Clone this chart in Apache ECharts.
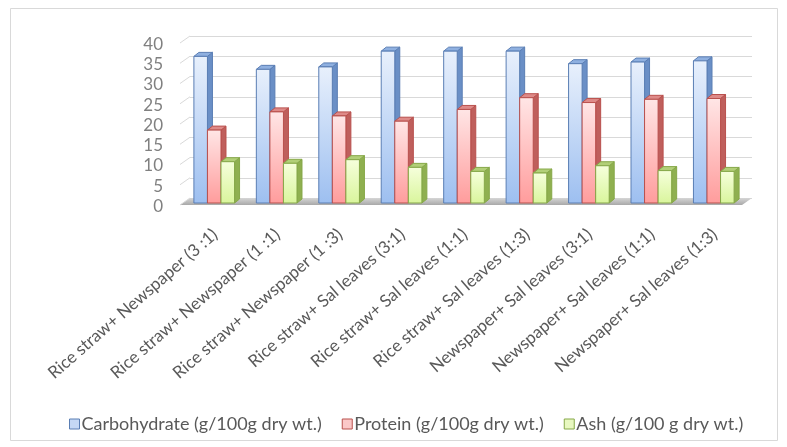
<!DOCTYPE html>
<html>
<head>
<meta charset="utf-8">
<script src="https://cdn.jsdelivr.net/npm/echarts@6/dist/echarts.min.js"></script>
<style>
html,body{margin:0;padding:0;background:#fff;}
#chart{width:787px;height:447px;}
</style>
</head>
<body>
<div id="chart"></div>
<script>
const categories = [
  'Rice straw+ Newspaper (3 :1)',
  'Rice straw+ Newspaper (1 :1)',
  'Rice straw+ Newspaper (1 :3)',
  'Rice straw+ Sal leaves (3:1)',
  'Rice straw+ Sal leaves (1:1)',
  'Rice straw+ Sal leaves (1:3)',
  'Newspaper+ Sal leaves (3:1)',
  'Newspaper+ Sal leaves (1:1)',
  'Newspaper+ Sal leaves (1:3)'
];
const carbohydrate = [36.2, 33.0, 33.6, 37.5, 37.5, 37.5, 34.4, 34.8, 35.1];
const protein = [18.0, 22.5, 21.5, 20.2, 23.1, 26.0, 24.8, 25.6, 25.8];
const ash = [10.2, 9.8, 10.7, 8.8, 7.8, 7.4, 9.2, 8.0, 7.8];
const yTicks = [0, 5, 10, 15, 20, 25, 30, 35, 40];
const seriesNames = [
  'Carbohydrate (g/100g dry wt.)',
  'Protein (g/100g dry wt.)',
  'Ash (g/100 g dry wt.)'
];

const FONT = 'Lato';
const palettes = [
  {top:'#e8f0fc', bottom:'#9dbff0', side:'#6a8fc6', cap:'#8fb0e0', border:'#5a7eb4', legend:'#c5d8f5'},
  {top:'#ffe6e6', bottom:'#ff9c9c', side:'#bf5f5c', cap:'#de8a88', border:'#b9504d', legend:'#fbc8c8'},
  {top:'#f6ffdc', bottom:'#d9f59c', side:'#8fb050', cap:'#b2cf78', border:'#86a848', legend:'#e8f8c0'}
];
// 3D offsets (px)
const FX = -7, FY = 5;   // bar front plane relative to back wall
const DX = 5, DY = -4;   // bar depth
const WX = -10, WY = 7;  // wall depth

function barRenderer(k) {
  const p = palettes[k];
  return function (params, api) {
    const idx = api.value(0), v = api.value(1);
    const base = api.coord([idx, 0]);
    const top = api.coord([idx, v]);
    const band = api.size([1, 0])[0];
    const w = band * 0.217;
    const cx = base[0] + (k - 1) * w + FX;
    const x0 = cx - w / 2, x1 = cx + w / 2;
    const yb = base[1] + FY, yt = top[1] + FY;
    return {
      type: 'group',
      children: [
        {type: 'polygon', shape: {points: [[x1, yt], [x1 + DX, yt + DY], [x1 + DX, yb + DY], [x1, yb]]},
          style: {fill: p.side, stroke: p.border, lineWidth: 1}},
        {type: 'polygon', shape: {points: [[x0, yt], [x0 + DX, yt + DY], [x1 + DX, yt + DY], [x1, yt]]},
          style: {fill: p.cap, stroke: p.border, lineWidth: 1}},
        {type: 'rect', shape: {x: x0, y: yt, width: w, height: yb - yt},
          style: {
            fill: new echarts.graphic.LinearGradient(0, 0, 0, 1, [
              {offset: 0, color: p.top}, {offset: 1, color: p.bottom}
            ]),
            stroke: p.border, lineWidth: 1
          }}
      ]
    };
  };
}

function wallRenderer(params, api) {
  const v = api.value(1);
  const pt = api.coord([0, v]);
  const last = api.coord([categories.length - 1, v]);
  const band = api.size([1, 0])[0];
  const xl = pt[0] - band / 2;
  const xr = last[0] + band / 2;
  const children = [
    {type: 'line', shape: {x1: xl, y1: pt[1], x2: xl + WX, y2: pt[1] + WY},
      style: {stroke: '#d9d9d9', lineWidth: 1}}
  ];
  if (v === 0) {
    children.unshift({type: 'polygon',
      shape: {points: [[xl, pt[1]], [xr, pt[1]], [xr + WX, pt[1] + WY], [xl + WX, pt[1] + WY]]},
      style: {fill: new echarts.graphic.LinearGradient(0, 0, 0, 1, [
        {offset: 0, color: '#d6d6d6'}, {offset: 1, color: '#a8a8a8'}])}});
  }
  return {type: 'group', children: children};
}

const chart = echarts.init(document.getElementById('chart'), null, {renderer: 'canvas'});
const valueSets = [carbohydrate, protein, ash];

chart.setOption({
  animation: false,
  backgroundColor: '#fff',
  textStyle: {fontFamily: FONT},
  graphic: [{
    type: 'rect', shape: {x: 10.5, y: 8.5, width: 767, height: 432},
    style: {fill: 'none', stroke: '#d9d9d9', lineWidth: 1}, z: -10
  }],
  grid: {left: 190, right: 35, top: 36, bottom: 249, containLabel: false},
  legend: {
    left: 64, top: 410, itemWidth: 10, itemHeight: 10, itemGap: 20,
    icon: 'rect',
    textStyle: {fontFamily: FONT, fontSize: 18, color: '#595959', padding: [0, 0, 0, -3]},
    data: seriesNames.map((n, k) => ({
      name: n,
      itemStyle: {color: palettes[k].legend, borderColor: palettes[k].border, borderWidth: 1}
    }))
  },
  xAxis: {
    type: 'category', data: categories,
    axisLine: {show: false}, axisTick: {show: false},
    axisLabel: {rotate: 41, margin: 29, interval: 0, fontSize: 17, color: '#595959', fontFamily: FONT,
      padding: [0, 8, 0, 0]}
  },
  yAxis: {
    type: 'value', min: 0, max: 40, interval: 5,
    axisLine: {show: false}, axisTick: {show: false},
    splitLine: {lineStyle: {color: '#d9d9d9', width: 1}},
    axisLabel: {margin: 27, fontSize: 17, color: '#808080', fontFamily: FONT, verticalAlign: 'top'}
  },
  series: [
    {type: 'custom', renderItem: wallRenderer, data: yTicks.map(v => [0, v]), z: 1, silent: true}
  ].concat(valueSets.map((vals, k) => ({
    type: 'custom', name: seriesNames[k],
    itemStyle: {color: palettes[k].legend, borderColor: palettes[k].border},
    renderItem: barRenderer(k),
    data: vals.map((v, i) => [i, v]),
    encode: {x: 0, y: 1},
    z: 2 + k
  })))
});
</script>
</body>
</html>
